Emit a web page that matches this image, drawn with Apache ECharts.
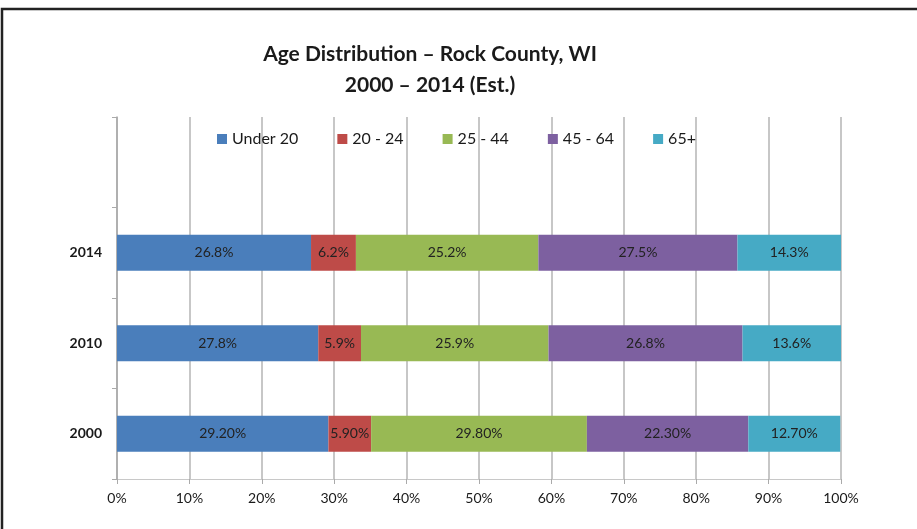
<!DOCTYPE html>
<html>
<head>
<meta charset="utf-8">
<script src="https://cdn.jsdelivr.net/npm/echarts@6/dist/echarts.min.js"></script>
<style>
  html, body { margin: 0; padding: 0; background: #fff; }
  #main { width: 917px; height: 529px; }
</style>
</head>
<body>
<div id="main"></div>
<script>
// data, bottom row first (2000 at bottom)
var years = ['2000', '2010', '2014'];
var groups = ['Under 20', '20 - 24', '25 - 44', '45 - 64', '65+'];
var under20 = [29.2, 27.8, 26.8];
var age20to24 = [5.9, 5.9, 6.2];
var age25to44 = [29.8, 25.9, 25.2];
var age45to64 = [22.3, 26.8, 27.5];
var age65plus = [12.7, 13.6, 14.3];
var labelDecimals = [2, 1, 1];   // 2000 row printed as 29.20%
var xTicks = [0, 10, 20, 30, 40, 50, 60, 70, 80, 90, 100];

var colors = ['#4a7ebb', '#be4b48', '#98b954', '#7d60a0', '#46aac5'];
var values = [under20, age20to24, age25to44, age45to64, age65plus];

var font = 'Lato, "Open Sans", sans-serif';

var myChart = echarts.init(document.getElementById('main'));

var series = [];
for (var i = 0; i < groups.length; i++) {
    series.push({
        name: groups[i],
        type: 'bar',
        stack: 'total',
        barWidth: 36,
        itemStyle: { color: colors[i] },
        label: {
            show: true,
            position: 'inside',
            color: '#222',
            fontFamily: font,
            fontSize: 14,
            formatter: function (p) {
                return p.value.toFixed(labelDecimals[p.dataIndex]) + '%';
            }
        },
        data: values[i]
    });
}

// the top band of the plot is left empty (legend sits there)
var yCats = years.concat(['']);

var option = {
    animation: false,
    color: colors,
    title: {
        text: 'Age Distribution \u2013 Rock County, WI\n2000 \u2013 2014 (Est.)',
        left: 425,
        textAlign: 'center',
        top: 34,
        textStyle: {
            fontFamily: font,
            fontSize: 21,
            fontWeight: 'bold',
            color: '#1a1a1a',
            lineHeight: 31
        }
    },
    legend: {
        top: 126,
        left: 212,
        itemWidth: 10,
        itemHeight: 10,
        itemGap: 39,
        icon: 'rect',
        textStyle: { fontFamily: font, fontSize: 16, color: '#1a1a1a' },
        data: groups
    },
    grid: { left: 117, right: 76, top: 117, bottom: 50 },
    xAxis: {
        type: 'value',
        min: xTicks[0],
        max: xTicks[xTicks.length - 1],
        interval: 10,
        axisLine: { show: true, lineStyle: { color: '#c8c8c8' } },
        axisTick: { show: true, length: 5, lineStyle: { color: '#aaa' } },
        splitLine: { show: true, lineStyle: { color: '#b4b4b4', width: 1.5 } },
        axisLabel: {
            formatter: '{value}%',
            fontFamily: font,
            fontSize: 14,
            color: '#1a1a1a',
            margin: 12
        }
    },
    yAxis: {
        type: 'category',
        data: yCats,
        axisLine: { show: true, lineStyle: { color: '#a8a8a8', width: 1.5 } },
        axisTick: { show: true, length: 5, alignWithLabel: false, lineStyle: { color: '#aaa' } },
        axisLabel: {
            fontFamily: font,
            fontSize: 14,
            fontWeight: 'bold',
            color: '#1a1a1a',
            margin: 15
        }
    },
    graphic: [{
        type: 'polyline',
        shape: { points: [[2, 529], [2, 9], [917, 9]] },
        style: { stroke: '#222', lineWidth: 2.5, fill: null }
    }],
    series: series
};

myChart.setOption(option);
</script>
</body>
</html>
